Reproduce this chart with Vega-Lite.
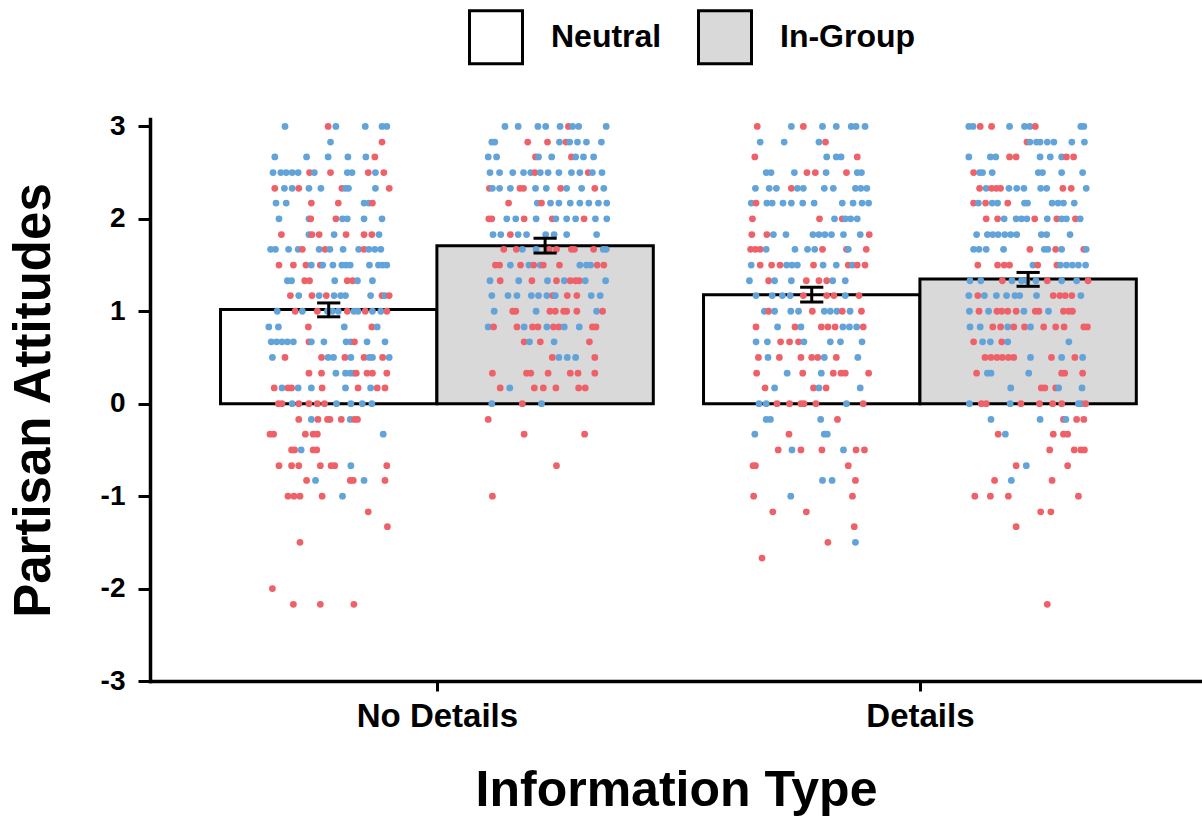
{
  "$schema": "https://vega.github.io/schema/vega-lite/v6.json",
  "width": 1052,
  "height": 562,
  "autosize": {"type": "none"},
  "padding": {"left": 150, "top": 119, "right": 0, "bottom": 137},
  "config": {
    "view": {"stroke": null},
    "font": "Liberation Sans",
    "axis": {
      "grid": false,
      "domainColor": "black",
      "domainWidth": 3.5,
      "domainCap": "square",
      "tickColor": "black",
      "tickWidth": 3,
      "labelColor": "black",
      "labelFont": "Liberation Sans",
      "labelFontWeight": "bold",
      "titleColor": "black",
      "titleFont": "Liberation Sans",
      "titleFontWeight": "bold"
    }
  },
  "datasets": {
    "bars": [
      {"i": "No Details", "g": "Neutral", "m": 1.02, "lo": 0.94, "hi": 1.09},
      {"i": "No Details", "g": "In-Group", "m": 1.71, "lo": 1.63, "hi": 1.79},
      {"i": "Details", "g": "Neutral", "m": 1.18, "lo": 1.1, "hi": 1.26},
      {"i": "Details", "g": "In-Group", "m": 1.35, "lo": 1.27, "hi": 1.42}
    ]
  },
  "layer": [
    {
      "data": {"name": "bars"},
      "transform": [
        {"calculate": "(datum.i == 'Details' ? 1 : 0) + (datum.g == 'In-Group' ? 1.224 : 0.776)", "as": "xc"},
        {"calculate": "datum.xc - 0.224", "as": "x0"},
        {"calculate": "datum.xc + 0.224", "as": "x1"}
      ],
      "mark": {"type": "bar", "stroke": "black", "strokeWidth": 3},
      "encoding": {
        "x": {
          "field": "x0", "type": "quantitative",
          "scale": {"domain": [0.406, 2.584], "nice": false, "zero": false},
          "axis": {
            "values": [1, 2],
            "labelExpr": "datum.value == 1 ? 'No Details' : 'Details'",
            "tickSize": 10,
            "labelFontSize": 33,
            "labelPadding": 9,
            "titleFontSize": 50,
            "titlePadding": 32
          },
          "title": "Information Type"
        },
        "x2": {"field": "x1"},
        "y": {
          "field": "m", "type": "quantitative",
          "scale": {"domain": [-3, 3.08], "nice": false, "zero": false},
          "axis": {
            "values": [-3, -2, -1, 0, 1, 2, 3],
            "labelExpr": "'' + datum.value",
            "tickSize": 12,
            "labelFontSize": 28,
            "labelPadding": 13,
            "titleFontSize": 51,
            "titlePadding": 40
          },
          "title": "Partisan Attitudes"
        },
        "y2": {"datum": 0},
        "fill": {
          "field": "g", "type": "nominal",
          "scale": {"domain": ["Neutral", "In-Group"], "range": ["#ffffff", "#d9d9d9"]},
          "legend": {
            "title": null,
            "orient": "none",
            "direction": "horizontal",
            "legendX": 318,
            "legendY": -110,
            "padding": 0,
            "symbolType": "square",
            "symbolSize": 2809,
            "symbolStrokeColor": "black",
            "symbolStrokeWidth": 3,
            "symbolOpacity": 1,
            "labelFontSize": 32,
            "labelFontWeight": "bold",
            "labelColor": "black",
            "labelOffset": 27,
            "columnPadding": 30
          }
        }
      }
    },
    {
      "data": {
        "values": "c,p,v,j\nNN,B,3,-0.73\nNN,R,3,-0.01\nNN,B,3,0.12\nNN,B,3,0.61\nNN,B,3,0.89\nNN,B,3,0.97\nNN,B,2.83,0.03\nNN,R,2.83,0.89\nNN,B,2.67,-0.9\nNN,B,2.67,-0.37\nNN,B,2.67,-0.01\nNN,B,2.67,0.32\nNN,B,2.67,0.62\nNN,R,2.67,0.77\nNN,B,2.5,-0.93\nNN,B,2.5,-0.8\nNN,B,2.5,-0.71\nNN,B,2.5,-0.61\nNN,B,2.5,-0.51\nNN,R,2.5,-0.32\nNN,B,2.5,-0.24\nNN,R,2.5,0.03\nNN,B,2.5,0.31\nNN,B,2.5,0.39\nNN,R,2.5,0.66\nNN,B,2.5,0.78\nNN,R,2.5,0.92\nNN,R,2.33,-0.9\nNN,B,2.33,-0.74\nNN,B,2.33,-0.61\nNN,R,2.33,-0.5\nNN,B,2.33,-0.33\nNN,B,2.33,-0.13\nNN,R,2.33,0.22\nNN,B,2.33,0.28\nNN,B,2.33,0.33\nNN,B,2.33,0.78\nNN,R,2.33,1.01\nNN,B,2.17,-0.88\nNN,B,2.17,-0.71\nNN,R,2.17,-0.29\nNN,R,2.17,0.16\nNN,B,2.17,0.59\nNN,B,2.17,0.67\nNN,R,2.17,0.73\nNN,B,2,-0.83\nNN,B,2,-0.33\nNN,R,2,-0.3\nNN,R,2,0.12\nNN,B,2,0.23\nNN,B,2,0.31\nNN,B,2,0.59\nNN,B,2,0.89\nNN,R,1.83,-0.79\nNN,B,1.83,-0.33\nNN,R,1.83,-0.28\nNN,R,1.83,-0.16\nNN,B,1.83,0.09\nNN,R,1.83,0.29\nNN,R,1.83,0.59\nNN,R,1.83,0.72\nNN,B,1.83,0.84\nNN,B,1.67,-0.97\nNN,B,1.67,-0.89\nNN,B,1.67,-0.67\nNN,B,1.67,-0.51\nNN,R,1.67,-0.44\nNN,B,1.67,-0.16\nNN,R,1.67,-0.06\nNN,B,1.67,0.02\nNN,B,1.67,0.24\nNN,B,1.67,0.5\nNN,R,1.67,0.59\nNN,B,1.67,0.67\nNN,B,1.67,0.77\nNN,B,1.67,0.87\nNN,R,1.5,-0.83\nNN,R,1.5,-0.59\nNN,R,1.5,-0.38\nNN,B,1.5,-0.29\nNN,R,1.5,-0.14\nNN,B,1.5,-0.1\nNN,B,1.5,0.07\nNN,B,1.5,0.22\nNN,B,1.5,0.29\nNN,B,1.5,0.36\nNN,B,1.5,0.68\nNN,B,1.5,0.83\nNN,B,1.5,0.9\nNN,B,1.5,0.97\nNN,B,1.33,-0.69\nNN,B,1.33,-0.62\nNN,R,1.33,-0.4\nNN,R,1.33,-0.32\nNN,B,1.33,0.1\nNN,R,1.33,0.31\nNN,R,1.33,0.4\nNN,B,1.33,0.48\nNN,B,1.33,0.73\nNN,R,1.17,-0.64\nNN,B,1.17,-0.5\nNN,R,1.17,-0.28\nNN,B,1.17,-0.16\nNN,R,1.17,-0.04\nNN,B,1.17,0.09\nNN,B,1.17,0.2\nNN,B,1.17,0.28\nNN,B,1.17,0.7\nNN,R,1.17,0.89\nNN,B,1.17,0.94\nNN,R,1.17,1.01\nNN,B,1,-0.86\nNN,R,1,-0.56\nNN,B,1,-0.44\nNN,R,1,-0.19\nNN,B,1,-0.02\nNN,B,1,0.06\nNN,B,1,0.16\nNN,R,1,0.31\nNN,B,1,0.42\nNN,B,1,0.49\nNN,R,1,0.61\nNN,B,1,0.73\nNN,B,1,0.87\nNN,R,1,0.97\nNN,B,0.83,-1\nNN,B,0.83,-0.84\nNN,R,0.83,-0.34\nNN,B,0.83,0.26\nNN,R,0.83,0.72\nNN,B,0.83,0.81\nNN,B,0.67,-0.96\nNN,B,0.67,-0.87\nNN,B,0.67,-0.78\nNN,B,0.67,-0.69\nNN,B,0.67,-0.59\nNN,R,0.67,-0.33\nNN,B,0.67,-0.29\nNN,B,0.67,-0.08\nNN,B,0.67,0.29\nNN,B,0.67,0.37\nNN,R,0.67,0.43\nNN,B,0.67,0.64\nNN,B,0.67,0.94\nNN,B,0.5,-0.94\nNN,R,0.5,-0.73\nNN,R,0.5,-0.12\nNN,B,0.5,-0.01\nNN,B,0.5,0.08\nNN,R,0.5,0.27\nNN,B,0.5,0.37\nNN,R,0.5,0.59\nNN,B,0.5,0.68\nNN,B,0.5,0.73\nNN,R,0.5,0.9\nNN,B,0.5,1.01\nNN,R,0.33,-0.33\nNN,R,0.33,-0.12\nNN,B,0.33,0.12\nNN,B,0.33,0.28\nNN,B,0.33,0.36\nNN,B,0.33,0.42\nNN,R,0.33,0.46\nNN,R,0.33,0.64\nNN,R,0.33,0.73\nNN,R,0.33,0.97\nNN,R,0.17,-0.91\nNN,B,0.17,-0.78\nNN,R,0.17,-0.68\nNN,R,0.17,-0.62\nNN,B,0.17,-0.51\nNN,B,0.17,-0.29\nNN,R,0.17,-0.11\nNN,B,0.17,0.28\nNN,R,0.17,0.49\nNN,B,0.17,0.7\nNN,R,0.17,0.81\nNN,R,0.17,0.94\nNN,R,0,-0.84\nNN,R,0,-0.78\nNN,B,0,-0.61\nNN,R,0,-0.5\nNN,R,0,-0.33\nNN,R,0,-0.19\nNN,R,0,-0.07\nNN,B,0,0.13\nNN,B,0,0.37\nNN,B,0,0.56\nNN,B,0,0.72\nNN,R,-0.17,-0.5\nNN,B,-0.17,-0.29\nNN,R,-0.17,-0.18\nNN,R,-0.17,-0.02\nNN,R,-0.17,0.02\nNN,R,-0.17,0.21\nNN,B,-0.17,0.36\nNN,R,-0.17,0.43\nNN,R,-0.17,0.48\nNN,R,-0.33,-0.98\nNN,R,-0.33,-0.92\nNN,R,-0.33,-0.39\nNN,R,-0.33,-0.26\nNN,R,-0.33,-0.19\nNN,B,-0.33,0.91\nNN,R,-0.5,-0.62\nNN,R,-0.5,-0.57\nNN,B,-0.5,-0.46\nNN,R,-0.5,-0.26\nNN,R,-0.5,-0.2\nNN,R,-0.67,-0.83\nNN,R,-0.67,-0.62\nNN,R,-0.67,-0.5\nNN,R,-0.67,-0.14\nNN,R,-0.67,0.04\nNN,R,-0.67,0.1\nNN,B,-0.67,0.37\nNN,R,-0.67,0.97\nNN,R,-0.83,-0.37\nNN,B,-0.83,-0.22\nNN,R,-0.83,0.36\nNN,R,-0.83,0.41\nNN,B,-0.83,0.59\nNN,R,-0.83,0.94\nNN,R,-1,-0.68\nNN,R,-1,-0.58\nNN,R,-1,-0.48\nNN,R,-1,-0.11\nNN,B,-1,0.23\nNN,R,-1.17,0.66\nNN,R,-1.33,0.98\nNN,R,-1.5,-0.48\nNN,R,-2,-0.94\nNN,R,-2.17,-0.59\nNN,R,-2.17,-0.14\nNN,R,-2.17,0.42\nNI,B,3,-0.67\nNI,B,3,-0.45\nNI,B,3,-0.12\nNI,B,3,0.01\nNI,B,3,0.25\nNI,R,3,0.39\nNI,B,3,0.46\nNI,B,3,0.56\nNI,B,3,1.02\nNI,B,2.83,-0.89\nNI,B,2.83,-0.84\nNI,R,2.83,-0.29\nNI,R,2.83,0.04\nNI,B,2.83,0.24\nNI,R,2.83,0.35\nNI,B,2.83,0.41\nNI,B,2.83,0.54\nNI,B,2.83,0.69\nNI,B,2.83,0.94\nNI,B,2.67,-0.95\nNI,B,2.67,-0.81\nNI,R,2.67,-0.16\nNI,B,2.67,-0.11\nNI,B,2.67,0.11\nNI,R,2.67,0.44\nNI,B,2.67,0.51\nNI,B,2.67,0.64\nNI,B,2.67,0.81\nNI,B,2.5,-0.92\nNI,B,2.5,-0.76\nNI,B,2.5,-0.54\nNI,B,2.5,-0.36\nNI,B,2.5,-0.24\nNI,R,2.5,-0.17\nNI,B,2.5,-0.08\nNI,B,2.5,0.05\nNI,B,2.5,0.23\nNI,B,2.5,0.44\nNI,B,2.5,0.58\nNI,R,2.5,0.72\nNI,B,2.5,0.79\nNI,B,2.5,0.95\nNI,R,2.33,-0.93\nNI,B,2.33,-0.88\nNI,B,2.33,-0.76\nNI,B,2.33,-0.58\nNI,R,2.33,-0.42\nNI,R,2.33,-0.36\nNI,B,2.33,-0.16\nNI,B,2.33,0.02\nNI,R,2.33,0.26\nNI,B,2.33,0.36\nNI,B,2.33,0.61\nNI,R,2.33,0.83\nNI,B,2.33,0.98\nNI,R,2.17,-0.61\nNI,B,2.17,-0.13\nNI,R,2.17,-0.06\nNI,B,2.17,0.09\nNI,B,2.17,0.23\nNI,B,2.17,0.42\nNI,B,2.17,0.58\nNI,B,2.17,0.73\nNI,B,2.17,0.89\nNI,B,2.17,1.03\nNI,R,2,-0.94\nNI,R,2,-0.89\nNI,B,2,-0.64\nNI,B,2,-0.49\nNI,R,2,-0.35\nNI,B,2,-0.15\nNI,R,2,0.12\nNI,B,2,0.18\nNI,B,2,0.36\nNI,B,2,0.51\nNI,R,2,0.65\nNI,B,2,0.84\nNI,B,2,1.03\nNI,B,1.83,-0.87\nNI,B,1.83,-0.74\nNI,R,1.83,-0.58\nNI,B,1.83,-0.45\nNI,B,1.83,-0.31\nNI,B,1.83,0.01\nNI,B,1.83,0.15\nNI,B,1.83,0.36\nNI,B,1.83,0.86\nNI,R,1.67,-0.69\nNI,R,1.67,-0.48\nNI,B,1.67,-0.38\nNI,B,1.67,-0.15\nNI,R,1.67,0.07\nNI,R,1.67,0.19\nNI,R,1.67,0.44\nNI,R,1.67,0.49\nNI,R,1.67,0.81\nNI,B,1.67,0.97\nNI,B,1.67,1.02\nNI,R,1.5,-0.83\nNI,R,1.5,-0.76\nNI,B,1.5,-0.58\nNI,R,1.5,-0.41\nNI,B,1.5,-0.27\nNI,R,1.5,-0.19\nNI,B,1.5,-0.08\nNI,R,1.5,-0.03\nNI,R,1.5,0.24\nNI,B,1.5,0.58\nNI,B,1.5,0.69\nNI,B,1.5,0.76\nNI,R,1.5,0.87\nNI,R,1.5,0.98\nNI,B,1.33,-0.92\nNI,R,1.33,-0.75\nNI,B,1.33,-0.44\nNI,R,1.33,-0.22\nNI,B,1.33,0.04\nNI,R,1.33,0.19\nNI,B,1.33,0.32\nNI,R,1.33,0.42\nNI,R,1.33,0.51\nNI,R,1.33,0.57\nNI,B,1.33,0.67\nNI,B,1.33,1.01\nNI,B,1.17,-0.89\nNI,B,1.17,-0.62\nNI,B,1.17,-0.47\nNI,B,1.17,-0.23\nNI,B,1.17,-0.11\nNI,B,1.17,0.03\nNI,R,1.17,0.13\nNI,B,1.17,0.17\nNI,R,1.17,0.37\nNI,R,1.17,0.53\nNI,B,1.17,0.77\nNI,B,1.17,0.92\nNI,B,1,-0.85\nNI,R,1,-0.54\nNI,R,1,-0.49\nNI,B,1,-0.15\nNI,R,1,0.08\nNI,R,1,0.17\nNI,R,1,0.31\nNI,R,1,0.36\nNI,R,1,0.53\nNI,B,1,0.86\nNI,R,1,0.96\nNI,B,0.83,-0.95\nNI,R,0.83,-0.86\nNI,R,0.83,-0.47\nNI,B,0.83,-0.35\nNI,R,0.83,-0.21\nNI,R,0.83,-0.12\nNI,B,0.83,0.03\nNI,R,0.83,0.14\nNI,R,0.83,0.23\nNI,B,0.83,0.32\nNI,B,0.83,0.57\nNI,R,0.83,0.79\nNI,R,0.83,0.85\nNI,R,0.67,-0.35\nNI,B,0.67,-0.26\nNI,R,0.67,-0.08\nNI,B,0.67,0.15\nNI,R,0.67,0.74\nNI,R,0.5,0.12\nNI,B,0.5,0.23\nNI,B,0.5,0.37\nNI,B,0.5,0.51\nNI,R,0.5,0.83\nNI,R,0.33,-0.88\nNI,R,0.33,-0.31\nNI,R,0.33,-0.24\nNI,R,0.33,0.05\nNI,R,0.33,0.42\nNI,R,0.33,0.55\nNI,R,0.33,0.83\nNI,R,0.17,-0.75\nNI,B,0.17,-0.59\nNI,R,0.17,-0.18\nNI,R,0.17,-0.03\nNI,R,0.17,0.18\nNI,R,0.17,0.56\nNI,R,0.17,0.67\nNI,B,0,-0.89\nNI,R,0,-0.38\nNI,B,0,-0.06\nNI,R,-0.17,-0.95\nNI,R,-0.33,-0.35\nNI,R,-0.33,0.66\nNI,R,-0.67,0.19\nNI,R,-1,-0.88\nDN,R,3,-0.91\nDN,B,3,-0.34\nDN,R,3,-0.14\nDN,B,3,0.18\nDN,B,3,0.41\nDN,B,3,0.66\nDN,B,3,0.74\nDN,B,3,0.89\nDN,B,2.83,-0.86\nDN,B,2.83,-0.46\nDN,B,2.83,0.12\nDN,R,2.83,0.23\nDN,R,2.67,-0.95\nDN,B,2.67,0.25\nDN,B,2.67,0.41\nDN,B,2.67,0.49\nDN,R,2.67,0.76\nDN,B,2.5,-0.76\nDN,B,2.5,-0.68\nDN,B,2.5,-0.29\nDN,R,2.5,-0.08\nDN,R,2.5,0.06\nDN,B,2.5,0.24\nDN,R,2.5,0.58\nDN,B,2.5,0.76\nDN,B,2.5,0.83\nDN,B,2.33,-0.94\nDN,B,2.33,-0.71\nDN,B,2.33,-0.59\nDN,R,2.33,-0.34\nDN,B,2.33,-0.24\nDN,B,2.33,-0.14\nDN,B,2.33,0.21\nDN,B,2.33,0.36\nDN,B,2.33,0.73\nDN,B,2.33,0.82\nDN,B,2.33,0.92\nDN,B,2.17,-1.01\nDN,R,2.17,-0.93\nDN,B,2.17,-0.75\nDN,B,2.17,-0.66\nDN,B,2.17,-0.48\nDN,B,2.17,-0.34\nDN,B,2.17,-0.15\nDN,B,2.17,0.04\nDN,B,2.17,0.51\nDN,B,2.17,0.69\nDN,B,2.17,0.84\nDN,B,2.17,0.95\nDN,R,2,-0.99\nDN,R,2,0.13\nDN,B,2,0.38\nDN,R,2,0.51\nDN,B,2,0.56\nDN,B,2,0.65\nDN,B,2,0.76\nDN,R,1.83,-1\nDN,R,1.83,-0.75\nDN,B,1.83,-0.64\nDN,B,1.83,-0.43\nDN,B,1.83,0.02\nDN,B,1.83,0.12\nDN,B,1.83,0.22\nDN,B,1.83,0.33\nDN,B,1.83,0.53\nDN,B,1.83,0.81\nDN,R,1.83,0.96\nDN,R,1.67,-1.02\nDN,R,1.67,-0.94\nDN,R,1.67,-0.86\nDN,B,1.67,-0.76\nDN,B,1.67,-0.28\nDN,B,1.67,-0.07\nDN,B,1.67,0.05\nDN,R,1.67,0.18\nDN,R,1.67,0.58\nDN,B,1.67,0.61\nDN,R,1.67,0.91\nDN,B,1.5,-1.01\nDN,R,1.5,-0.86\nDN,R,1.5,-0.67\nDN,R,1.5,-0.53\nDN,B,1.5,-0.42\nDN,B,1.5,-0.33\nDN,B,1.5,-0.24\nDN,R,1.5,0.03\nDN,B,1.5,0.19\nDN,B,1.5,0.41\nDN,R,1.5,0.61\nDN,B,1.5,0.68\nDN,R,1.5,0.76\nDN,R,1.5,0.89\nDN,B,1.33,-1.04\nDN,R,1.33,-0.72\nDN,B,1.33,-0.62\nDN,B,1.33,-0.34\nDN,R,1.33,-0.09\nDN,R,1.33,0.12\nDN,R,1.33,0.25\nDN,B,1.33,0.35\nDN,B,1.33,0.56\nDN,B,1.17,-0.93\nDN,B,1.17,-0.66\nDN,B,1.17,-0.49\nDN,B,1.17,-0.36\nDN,R,1.17,-0.14\nDN,R,1.17,0.25\nDN,R,1.17,0.37\nDN,B,1.17,0.56\nDN,R,1.17,0.79\nDN,B,1,-0.79\nDN,R,1,-0.72\nDN,B,1,-0.62\nDN,B,1,-0.35\nDN,B,1,-0.22\nDN,R,1,0.01\nDN,B,1,0.21\nDN,B,1,0.31\nDN,B,1,0.42\nDN,R,1,0.51\nDN,B,1,0.64\nDN,R,1,0.83\nDN,R,0.83,-0.93\nDN,B,0.83,-0.57\nDN,R,0.83,-0.28\nDN,B,0.83,-0.18\nDN,R,0.83,0.16\nDN,R,0.83,0.27\nDN,R,0.83,0.39\nDN,B,0.83,0.52\nDN,B,0.83,0.63\nDN,B,0.83,0.75\nDN,R,0.83,0.86\nDN,B,0.67,-0.93\nDN,B,0.67,-0.74\nDN,R,0.67,-0.52\nDN,R,0.67,-0.37\nDN,R,0.67,-0.22\nDN,B,0.67,-0.13\nDN,B,0.67,0.31\nDN,B,0.67,0.48\nDN,B,0.67,0.84\nDN,R,0.5,-0.89\nDN,B,0.5,-0.73\nDN,R,0.5,-0.54\nDN,R,0.5,-0.18\nDN,R,0.5,0\nDN,R,0.5,0.1\nDN,B,0.5,0.21\nDN,R,0.5,0.41\nDN,B,0.5,0.77\nDN,R,0.33,-0.92\nDN,B,0.33,-0.41\nDN,R,0.33,-0.15\nDN,B,0.33,0.16\nDN,R,0.33,0.36\nDN,R,0.33,0.49\nDN,R,0.33,0.56\nDN,R,0.33,0.95\nDN,R,0.17,-0.78\nDN,B,0.17,-0.62\nDN,R,0.17,0.03\nDN,B,0.17,0.12\nDN,R,0.17,0.24\nDN,B,0.17,0.81\nDN,B,0,-0.88\nDN,B,0,-0.76\nDN,R,0,-0.58\nDN,R,0,-0.37\nDN,R,0,-0.18\nDN,R,0,-0.13\nDN,R,0,0.07\nDN,B,0,0.58\nDN,R,0,0.86\nDN,B,-0.17,-0.76\nDN,B,-0.17,-0.69\nDN,B,-0.17,0.15\nDN,R,-0.17,0.43\nDN,B,-0.33,-0.95\nDN,R,-0.33,-0.38\nDN,B,-0.33,0.21\nDN,B,-0.33,0.26\nDN,R,-0.5,-0.56\nDN,B,-0.5,-0.33\nDN,R,-0.5,-0.18\nDN,R,-0.5,0.17\nDN,B,-0.5,0.53\nDN,R,-0.5,0.74\nDN,R,-0.5,0.88\nDN,R,-0.67,-0.98\nDN,R,-0.67,-0.94\nDN,R,-0.67,0.61\nDN,B,-0.83,0.18\nDN,B,-0.83,0.34\nDN,R,-0.83,0.73\nDN,R,-1,-0.97\nDN,B,-1,-0.35\nDN,R,-1,0.68\nDN,R,-1.17,-0.65\nDN,R,-1.17,-0.09\nDN,R,-1.33,0.71\nDN,R,-1.5,0.27\nDN,B,-1.5,0.73\nDN,R,-1.67,-0.83\nDI,B,3,-0.99\nDI,B,3,-0.92\nDI,R,3,-0.8\nDI,R,3,-0.61\nDI,B,3,-0.31\nDI,B,3,-0.06\nDI,B,3,0.03\nDI,R,3,0.12\nDI,B,3,0.88\nDI,B,3,0.93\nDI,R,2.83,-0.02\nDI,B,2.83,0.03\nDI,B,2.83,0.14\nDI,B,2.83,0.2\nDI,B,2.83,0.32\nDI,B,2.83,0.43\nDI,B,2.83,0.73\nDI,B,2.83,0.94\nDI,B,2.67,-0.99\nDI,B,2.67,-0.63\nDI,B,2.67,-0.54\nDI,R,2.67,-0.31\nDI,R,2.67,-0.2\nDI,B,2.67,0.2\nDI,B,2.67,0.37\nDI,B,2.67,0.56\nDI,R,2.67,0.64\nDI,R,2.67,0.76\nDI,R,2.5,-0.91\nDI,B,2.5,-0.81\nDI,B,2.5,-0.76\nDI,B,2.5,-0.6\nDI,B,2.5,0.17\nDI,B,2.5,0.24\nDI,B,2.5,0.56\nDI,B,2.5,0.91\nDI,R,2.33,-0.81\nDI,B,2.33,-0.7\nDI,R,2.33,-0.61\nDI,R,2.33,-0.53\nDI,R,2.33,-0.46\nDI,B,2.33,-0.32\nDI,B,2.33,-0.19\nDI,B,2.33,-0.07\nDI,B,2.33,0.21\nDI,B,2.33,0.31\nDI,R,2.33,0.58\nDI,R,2.33,0.72\nDI,B,2.33,0.97\nDI,R,2.17,-0.91\nDI,B,2.17,-0.83\nDI,R,2.17,-0.71\nDI,B,2.17,-0.6\nDI,B,2.17,-0.51\nDI,R,2.17,-0.34\nDI,B,2.17,-0.06\nDI,B,2.17,-0.01\nDI,B,2.17,0.4\nDI,B,2.17,0.5\nDI,B,2.17,0.59\nDI,B,2.17,0.77\nDI,R,2,-0.7\nDI,R,2,-0.51\nDI,B,2,-0.4\nDI,B,2,-0.2\nDI,B,2,-0.11\nDI,B,2,-0.02\nDI,R,2,0.11\nDI,B,2,0.32\nDI,R,2,0.48\nDI,B,2,0.56\nDI,B,2,0.64\nDI,R,2,0.79\nDI,B,2,0.87\nDI,B,1.83,-0.86\nDI,B,1.83,-0.68\nDI,B,1.83,-0.59\nDI,B,1.83,-0.5\nDI,B,1.83,-0.39\nDI,B,1.83,-0.29\nDI,B,1.83,-0.19\nDI,B,1.83,0.22\nDI,B,1.83,0.31\nDI,B,1.83,0.7\nDI,B,1.67,-0.91\nDI,B,1.67,-0.82\nDI,B,1.67,-0.7\nDI,B,1.67,-0.41\nDI,R,1.67,0.03\nDI,B,1.67,0.27\nDI,B,1.67,0.33\nDI,R,1.67,0.46\nDI,B,1.67,0.56\nDI,R,1.67,0.93\nDI,B,1.67,0.97\nDI,R,1.5,-0.84\nDI,R,1.5,-0.51\nDI,R,1.5,-0.4\nDI,R,1.5,-0.31\nDI,B,1.5,0.08\nDI,R,1.5,0.16\nDI,R,1.5,0.48\nDI,B,1.5,0.54\nDI,B,1.5,0.64\nDI,B,1.5,0.74\nDI,B,1.5,0.84\nDI,B,1.5,0.96\nDI,B,1.33,-0.97\nDI,B,1.33,-0.79\nDI,R,1.33,-0.43\nDI,B,1.33,-0.27\nDI,B,1.33,-0.11\nDI,B,1.33,-0.02\nDI,B,1.33,0.13\nDI,R,1.33,0.32\nDI,B,1.33,0.56\nDI,B,1.33,0.81\nDI,R,1.33,1\nDI,B,1.17,-0.99\nDI,R,1.17,-0.84\nDI,B,1.17,-0.73\nDI,B,1.17,-0.53\nDI,B,1.17,-0.36\nDI,B,1.17,-0.22\nDI,B,1.17,-0.14\nDI,B,1.17,0.14\nDI,R,1.17,0.42\nDI,R,1.17,0.53\nDI,R,1.17,0.62\nDI,R,1.17,0.73\nDI,B,1.17,0.88\nDI,B,1,-0.98\nDI,R,1,-0.82\nDI,B,1,-0.66\nDI,R,1,-0.52\nDI,R,1,-0.44\nDI,R,1,-0.34\nDI,R,1,-0.2\nDI,B,1,-0.07\nDI,R,1,0.12\nDI,R,1,0.18\nDI,B,1,0.34\nDI,R,1,0.59\nDI,R,1,0.68\nDI,R,1,0.74\nDI,B,0.83,-0.97\nDI,B,0.83,-0.8\nDI,R,0.83,-0.59\nDI,R,0.83,-0.46\nDI,B,0.83,-0.34\nDI,R,0.83,-0.24\nDI,R,0.83,-0.06\nDI,B,0.83,0.04\nDI,R,0.83,0.26\nDI,R,0.83,0.46\nDI,R,0.83,0.6\nDI,R,0.83,0.93\nDI,R,0.83,0.99\nDI,R,0.67,-0.91\nDI,B,0.67,-0.76\nDI,B,0.67,-0.63\nDI,R,0.67,-0.44\nDI,B,0.67,-0.34\nDI,B,0.67,0.68\nDI,R,0.5,-0.72\nDI,R,0.5,-0.62\nDI,R,0.5,-0.52\nDI,R,0.5,-0.43\nDI,R,0.5,-0.33\nDI,R,0.5,-0.24\nDI,B,0.5,0.04\nDI,R,0.5,0.39\nDI,B,0.5,0.56\nDI,R,0.5,0.78\nDI,B,0.5,0.91\nDI,R,0.33,-0.86\nDI,B,0.33,-0.68\nDI,B,0.33,-0.62\nDI,B,0.33,0.01\nDI,R,0.33,0.56\nDI,R,0.33,0.61\nDI,R,0.33,0.91\nDI,B,0.17,-0.29\nDI,R,0.17,0.22\nDI,R,0.17,0.28\nDI,R,0.17,0.46\nDI,B,0.17,0.51\nDI,B,0.17,0.9\nDI,B,0,-0.98\nDI,R,0,-0.78\nDI,R,0,-0.7\nDI,B,0,-0.3\nDI,R,0,-0.12\nDI,R,0,0.19\nDI,R,0,0.41\nDI,R,0,0.56\nDI,B,0,0.84\nDI,B,0,0.89\nDI,R,0,0.96\nDI,B,-0.17,-0.62\nDI,B,-0.17,0.2\nDI,R,-0.17,0.59\nDI,B,-0.17,0.63\nDI,R,-0.17,0.81\nDI,R,-0.17,0.93\nDI,R,-0.33,-0.5\nDI,B,-0.33,-0.38\nDI,R,-0.33,0.42\nDI,R,-0.33,0.59\nDI,R,-0.33,0.66\nDI,R,-0.5,0.36\nDI,R,-0.5,0.77\nDI,R,-0.5,0.88\nDI,R,-0.5,0.94\nDI,R,-0.67,-0.2\nDI,B,-0.67,-0.03\nDI,R,-0.67,0.66\nDI,R,-0.83,-0.56\nDI,B,-0.83,-0.28\nDI,R,-0.83,0.4\nDI,R,-1,-0.89\nDI,R,-1,-0.63\nDI,R,-1,-0.33\nDI,R,-1,0.84\nDI,R,-1.17,0.21\nDI,R,-1.17,0.38\nDI,R,-1.33,-0.2\nDI,R,-2.17,0.32",
        "format": {"type": "csv", "parse": {"v": "number", "j": "number"}}
      },
      "transform": [
        {"calculate": "(substring(datum.c, 0, 1) == 'D' ? 1 : 0) + (substring(datum.c, 1, 2) == 'I' ? 1.224 : 0.776) + datum.j * 0.124", "as": "px"}
      ],
      "mark": {"type": "circle", "size": 46, "opacity": 1},
      "encoding": {
        "x": {"field": "px", "type": "quantitative", "title": "Information Type"},
        "y": {"field": "v", "type": "quantitative", "title": "Partisan Attitudes"},
        "color": {
          "field": "p", "type": "nominal",
          "scale": {"domain": ["R", "B"], "range": ["#ef6168", "#62a3d9"]},
          "legend": null
        }
      }
    },
    {
      "data": {"name": "bars"},
      "transform": [
        {"calculate": "(datum.i == 'Details' ? 1 : 0) + (datum.g == 'In-Group' ? 1.224 : 0.776)", "as": "xc"},
        {"calculate": "datum.xc - 0.024", "as": "cl"},
        {"calculate": "datum.xc + 0.024", "as": "cr"}
      ],
      "layer": [
        {
          "mark": {"type": "rule", "color": "black", "strokeWidth": 3},
          "encoding": {
            "x": {"field": "xc", "type": "quantitative", "title": "Information Type"},
            "y": {"field": "lo", "type": "quantitative", "title": "Partisan Attitudes"},
            "y2": {"field": "hi"}
          }
        },
        {
          "mark": {"type": "rule", "color": "black", "strokeWidth": 3},
          "encoding": {
            "x": {"field": "cl", "type": "quantitative", "title": "Information Type"},
            "x2": {"field": "cr"},
            "y": {"field": "hi", "type": "quantitative", "title": "Partisan Attitudes"}
          }
        },
        {
          "mark": {"type": "rule", "color": "black", "strokeWidth": 3},
          "encoding": {
            "x": {"field": "cl", "type": "quantitative", "title": "Information Type"},
            "x2": {"field": "cr"},
            "y": {"field": "lo", "type": "quantitative", "title": "Partisan Attitudes"}
          }
        }
      ]
    }
  ]
}
